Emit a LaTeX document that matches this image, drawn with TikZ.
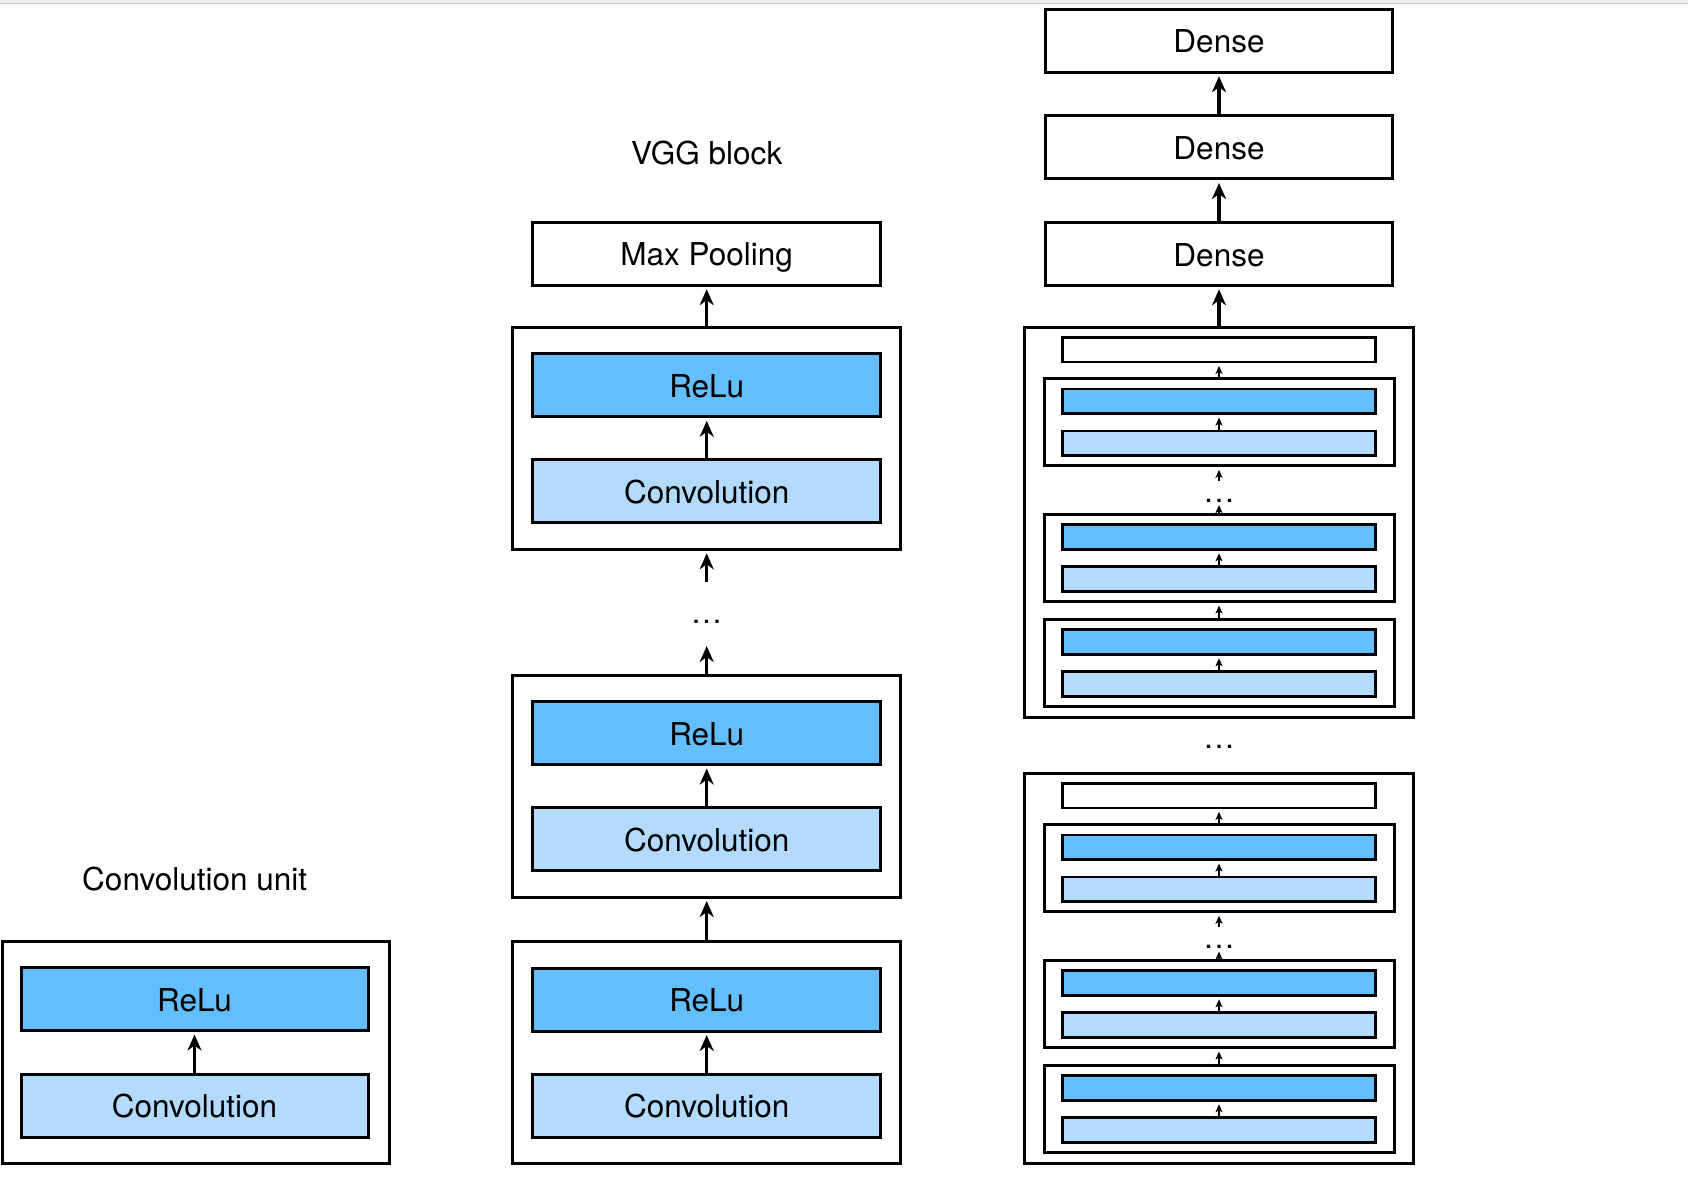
\documentclass[tikz,border=0pt]{standalone}
\usepackage{fontspec}
\setmainfont{TeX Gyre Heros}
\usetikzlibrary{arrows.meta}
\definecolor{relucol}{RGB}{99,190,255}
\definecolor{convcol}{RGB}{179,218,255}
\begin{document}
\begin{tikzpicture}[x=1pt,y=-1pt,
 lbl/.style={font=\fontsize{31.5}{36}\selectfont, inner sep=0pt},
 bigbox/.style={draw, line width=3pt, inner sep=0pt, minimum width=348pt, minimum height=63pt, text height=24.5pt, text depth=0pt, font=\fontsize{31.5}{36}\selectfont},
 relubig/.style={bigbox, fill=relucol},
 convbig/.style={bigbox, fill=convcol},
 plainbig/.style={bigbox, fill=white},
 block/.style={draw, line width=3pt, inner sep=0pt, minimum width=388.5pt, minimum height=222pt},
 tall/.style={draw, line width=3pt, inner sep=0pt, minimum width=388.5pt, minimum height=389.7pt},
 unitbox/.style={draw, line width=3pt, inner sep=0pt, minimum width=350pt, minimum height=87pt},
 smallbox/.style={draw, line width=2.7pt, inner sep=0pt, minimum width=313.4pt, minimum height=24.8pt},
 relusm/.style={smallbox, fill=relucol},
 convsm/.style={smallbox, fill=convcol},
 plainsm/.style={smallbox, fill=white},
 bigarrow/.style={line width=3.2pt, -{Stealth[length=16pt,width=14pt,inset=5pt]}, shorten >=2.5pt},
 smallarrow/.style={line width=2.2pt, -{Stealth[length=8pt,width=7pt,inset=2pt]}, shorten >=2.5pt},
]
\useasboundingbox (0,0) rectangle (1688,1193);
\fill[gray!12] (0,0) rectangle (1688,3);
\draw[gray!45, line width=1.5pt] (0,3.5) -- (1688,3.5);

% ---------- Convolution unit ----------
\node[lbl] (cutitle) at (194.7,879) {Convolution unit};
\node[block, minimum width=387pt] (cu) at (195.5,1052) {};
\node[relubig, minimum width=347pt] (curelu) at (194.5,999) {ReLu};
\node[convbig, minimum width=347pt] (cuconv) at (194.5,1105.7) {Convolution};
\draw[bigarrow] (cuconv.north) -- (curelu.south);

% ---------- VGG block ----------
\node[lbl] (vggtitle) at (706.7,153.3) {VGG block};
\node[plainbig] (pool) at (706.7,253.7) {Max Pooling};

\node[block] (b1) at (706.7,438.3) {};
\node[relubig] (b1relu) at (706.7,385.3) {ReLu};
\node[convbig] (b1conv) at (706.7,491.3) {Convolution};

\node[lbl, anchor=base] (vdots) at (706.7,623.5) {\ldots};
\coordinate (vdin) at (706.7,643.5);
\coordinate (vdout) at (706.7,581.7);

\node[block] (b2) at (706.7,786) {};
\node[relubig] (b2relu) at (706.7,733) {ReLu};
\node[convbig] (b2conv) at (706.7,839) {Convolution};

\node[block] (b3) at (706.7,1052.5) {};
\node[relubig] (b3relu) at (706.7,999.5) {ReLu};
\node[convbig] (b3conv) at (706.7,1105.5) {Convolution};

\draw[bigarrow] (b1.north) -- (pool.south);
\draw[bigarrow] (b1conv.north) -- (b1relu.south);
\draw[bigarrow] (vdout) -- (b1.south);
\draw[bigarrow] (b2.north) -- (vdin);
\draw[bigarrow] (b2conv.north) -- (b2relu.south);
\draw[bigarrow] (b3.north) -- (b2.south);
\draw[bigarrow] (b3conv.north) -- (b3relu.south);

% ---------- VGG network ----------
\node[plainbig, minimum width=347.7pt] (d1) at (1219,40.7) {Dense};
\node[plainbig, minimum width=347.7pt] (d2) at (1219,147.5) {Dense};
\node[plainbig, minimum width=347.7pt] (d3) at (1219,253.8) {Dense};
\draw[bigarrow] (d2.north) -- (d1.south);
\draw[bigarrow] (d3.north) -- (d2.south);

% upper network block
\node[tall] (ra) at (1219,522.15) {};
\node[plainsm] (rapool) at (1219,349.6) {};
\node[unitbox] (rau1) at (1219,422.3) {};
\node[relusm] (rau1r) at (1219,401.3) {};
\node[convsm] (rau1c) at (1219,443.3) {};
\node[lbl, anchor=base] (radots) at (1219,502) {\ldots};
\coordinate (radin) at (1219,502.5);
\coordinate (radout) at (1219,481);
\node[unitbox] (rau2) at (1219,558) {};
\node[relusm] (rau2r) at (1219,537) {};
\node[convsm] (rau2c) at (1219,579) {};
\node[unitbox] (rau3) at (1219,663) {};
\node[relusm] (rau3r) at (1219,642) {};
\node[convsm] (rau3c) at (1219,684) {};

\draw[bigarrow] (ra.north) -- (d3.south);
\draw[smallarrow] (rau1.north) -- (rapool.south);
\draw[smallarrow] (rau1c.north) -- (rau1r.south);
\draw[smallarrow] (radout) -- (rau1.south);
\draw[smallarrow] (rau2.north) -- (radin);
\draw[smallarrow] (rau2c.north) -- (rau2r.south);
\draw[smallarrow] (rau3.north) -- (rau2.south);
\draw[smallarrow] (rau3c.north) -- (rau3r.south);

\node[lbl, anchor=base] (midots) at (1219,748.2) {\ldots};

% lower network block
\node[tall] (rb) at (1219,968.15) {};
\node[plainsm] (rbpool) at (1219,795.6) {};
\node[unitbox] (rbu1) at (1219,868.3) {};
\node[relusm] (rbu1r) at (1219,847.3) {};
\node[convsm] (rbu1c) at (1219,889.3) {};
\node[lbl, anchor=base] (rbdots) at (1219,948.3) {\ldots};
\coordinate (rbdin) at (1219,949);
\coordinate (rbdout) at (1219,927);
\node[unitbox] (rbu2) at (1219,1004) {};
\node[relusm] (rbu2r) at (1219,983) {};
\node[convsm] (rbu2c) at (1219,1025) {};
\node[unitbox] (rbu3) at (1219,1109) {};
\node[relusm] (rbu3r) at (1219,1088) {};
\node[convsm] (rbu3c) at (1219,1130) {};

\draw[smallarrow] (rbu1.north) -- (rbpool.south);
\draw[smallarrow] (rbu1c.north) -- (rbu1r.south);
\draw[smallarrow] (rbdout) -- (rbu1.south);
\draw[smallarrow] (rbu2.north) -- (rbdin);
\draw[smallarrow] (rbu2c.north) -- (rbu2r.south);
\draw[smallarrow] (rbu3.north) -- (rbu2.south);
\draw[smallarrow] (rbu3c.north) -- (rbu3r.south);
\end{tikzpicture}
\end{document}
